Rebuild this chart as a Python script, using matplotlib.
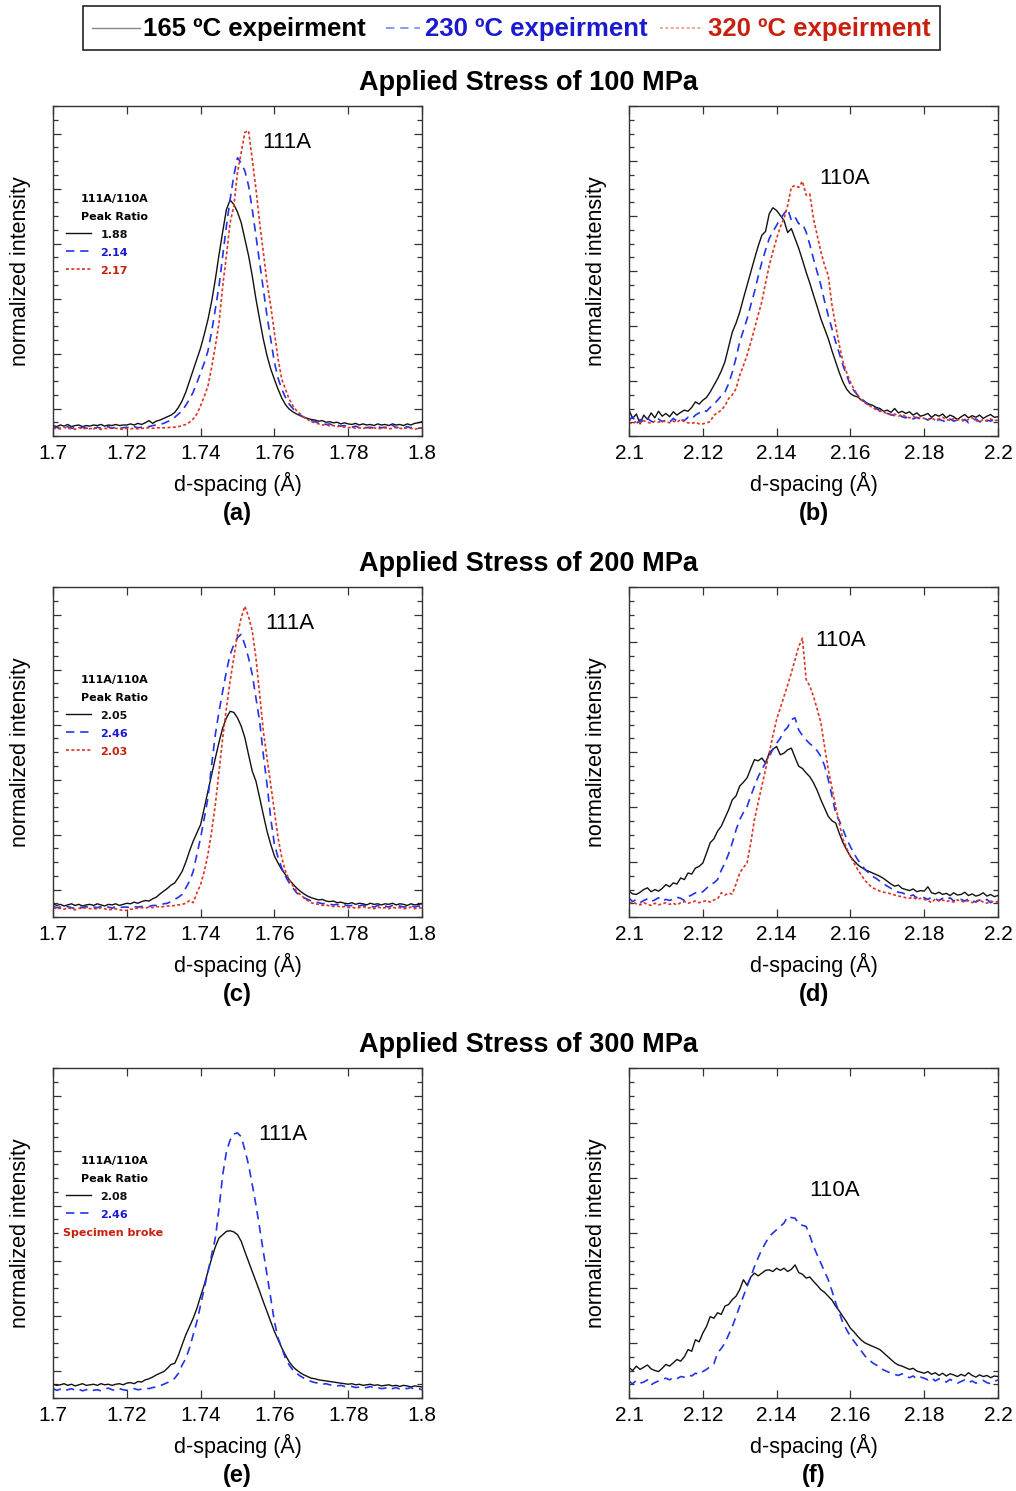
import numpy as np
import matplotlib
matplotlib.use("Agg")
import matplotlib.pyplot as plt
from matplotlib.ticker import MultipleLocator, FuncFormatter
from matplotlib.lines import Line2D
from matplotlib.patches import Rectangle

plt.rcParams['font.family'] = ['Liberation Sans', 'DejaVu Sans']

# d-spacing bins (A)
d_111 = np.round(np.arange(1.700, 1.8005, 0.001), 3)
d_110 = np.round(np.arange(2.100, 2.2005, 0.001), 3)

# ---- 100 MPa, 111A peak (a)
a_165 = [-0.31, -0.33, -0.30, -0.32, -0.29, -0.33, -0.31, -0.30, -0.33, -0.31,
         -0.32, -0.30, -0.31, -0.29, -0.32, -0.30, -0.31, -0.29, -0.31, -0.30,
         -0.30, -0.28, -0.30, -0.27, -0.29, -0.26, -0.22, -0.27, -0.23, -0.21,
         -0.18, -0.15, -0.12, -0.07, 0.02, 0.14, 0.30, 0.50, 0.70, 0.90,
         1.10, 1.35, 1.62, 1.95, 2.35, 2.80, 3.22, 3.62, 3.79, 3.71,
         3.57, 3.38, 3.08, 2.78, 2.41, 1.99, 1.62, 1.26, 0.96, 0.72,
         0.53, 0.35, 0.19, 0.07, -0.01, -0.06, -0.10, -0.13, -0.16, -0.18,
         -0.20, -0.21, -0.23, -0.22, -0.25, -0.24, -0.26, -0.25, -0.28, -0.26,
         -0.28, -0.29, -0.27, -0.30, -0.28, -0.30, -0.29, -0.31, -0.28, -0.30,
         -0.29, -0.31, -0.28, -0.30, -0.29, -0.31, -0.28, -0.30, -0.27, -0.26, -0.24]
a_230 = [-0.36, -0.34, -0.37, -0.35, -0.33, -0.36, -0.35, -0.37, -0.34, -0.36,
         -0.35, -0.37, -0.34, -0.36, -0.35, -0.33, -0.36, -0.34, -0.36, -0.35,
         -0.34, -0.36, -0.33, -0.35, -0.34, -0.32, -0.33, -0.31, -0.30, -0.29,
         -0.27, -0.24, -0.21, -0.16, -0.10, -0.04, 0.06, 0.17, 0.30, 0.47,
         0.65, 0.83, 1.05, 1.40, 1.81, 2.23, 2.78, 3.32, 3.80, 4.23,
         4.56, 4.46, 4.32, 4.05, 3.62, 3.14, 2.65, 2.17, 1.68, 1.26,
         0.84, 0.55, 0.35, 0.20, 0.08, 0.00, -0.07, -0.12, -0.16, -0.19,
         -0.22, -0.24, -0.26, -0.27, -0.29, -0.28, -0.31, -0.30, -0.32, -0.31,
         -0.33, -0.34, -0.32, -0.35, -0.33, -0.35, -0.34, -0.36, -0.33, -0.35,
         -0.34, -0.36, -0.30, -0.35, -0.34, -0.36, -0.33, -0.35, -0.34, -0.36, -0.35]
a_320 = [-0.35, -0.37, -0.36, -0.34, -0.37, -0.36, -0.38, -0.35, -0.37, -0.36,
         -0.37, -0.35, -0.36, -0.38, -0.36, -0.37, -0.35, -0.36, -0.37, -0.38,
         -0.36, -0.37, -0.36, -0.37, -0.36, -0.36, -0.35, -0.36, -0.35, -0.35,
         -0.35, -0.35, -0.34, -0.34, -0.33, -0.31, -0.29, -0.25, -0.19, -0.10,
         0.05, 0.22, 0.41, 0.75, 1.14, 1.56, 2.23, 2.78, 3.38, 3.68,
         4.29, 4.65, 5.02, 5.05, 4.53, 3.99, 3.38, 2.84, 2.29, 1.87,
         1.38, 0.90, 0.53, 0.35, 0.17, 0.05, -0.04, -0.10, -0.16, -0.20,
         -0.24, -0.26, -0.28, -0.30, -0.29, -0.32, -0.31, -0.33, -0.32, -0.34,
         -0.35, -0.34, -0.36, -0.35, -0.37, -0.34, -0.36, -0.35, -0.37, -0.36,
         -0.35, -0.37, -0.36, -0.34, -0.36, -0.37, -0.35, -0.36, -0.38, -0.36, -0.35]

# ---- 100 MPa, 110A peak (b)
b_165 = [0.47, 0.32, 0.40, 0.22, 0.38, 0.30, 0.42, 0.33, 0.45, 0.36,
         0.41, 0.35, 0.44, 0.38, 0.43, 0.47, 0.45, 0.52, 0.62, 0.58,
         0.65, 0.70, 0.80, 0.92, 1.04, 1.18, 1.35, 1.62, 1.89, 2.05,
         2.25, 2.50, 2.74, 2.98, 3.22, 3.45, 3.65, 3.72, 4.04, 4.15,
         4.10, 4.01, 3.92, 3.70, 3.77, 3.59, 3.41, 3.20, 2.98, 2.78,
         2.56, 2.35, 2.13, 1.95, 1.77, 1.55, 1.35, 1.15, 0.98, 0.85,
         0.77, 0.73, 0.71, 0.65, 0.62, 0.58, 0.56, 0.52, 0.50, 0.45,
         0.47, 0.43, 0.50, 0.42, 0.45, 0.41, 0.44, 0.38, 0.42, 0.36,
         0.38, 0.41, 0.34, 0.39, 0.36, 0.40, 0.33, 0.38, 0.35, 0.30,
         0.35, 0.39, 0.33, 0.37, 0.34, 0.38, 0.32, 0.36, 0.39, 0.34, 0.35]
b_230 = [0.28, 0.35, 0.22, 0.30, 0.25, 0.32, 0.27, 0.24, 0.31, 0.26,
         0.29, 0.25, 0.32, 0.27, 0.30, 0.28, 0.34, 0.31, 0.38, 0.42,
         0.47, 0.45, 0.52, 0.58, 0.65, 0.73, 0.80, 0.95, 1.16, 1.42,
         1.71, 1.92, 2.13, 2.38, 2.62, 2.90, 3.16, 3.38, 3.59, 3.72,
         3.83, 3.95, 4.04, 4.13, 3.92, 3.98, 3.86, 3.86, 3.71, 3.48,
         3.22, 2.98, 2.74, 2.45, 2.19, 1.95, 1.71, 1.50, 1.28, 1.10,
         0.92, 0.82, 0.74, 0.68, 0.62, 0.56, 0.52, 0.50, 0.46, 0.43,
         0.41, 0.39, 0.37, 0.40, 0.35, 0.33, 0.36, 0.31, 0.34, 0.30,
         0.32, 0.29, 0.33, 0.27, 0.30, 0.28, 0.25, 0.31, 0.27, 0.29,
         0.26, 0.30, 0.24, 0.28, 0.31, 0.26, 0.23, 0.29, 0.27, 0.30, 0.28]
b_320 = [0.25, 0.22, 0.27, 0.24, 0.28, 0.25, 0.23, 0.27, 0.25, 0.28,
         0.26, 0.24, 0.27, 0.25, 0.30, 0.26, 0.24, 0.23, 0.25, 0.22,
         0.22, 0.24, 0.26, 0.38, 0.42, 0.47, 0.55, 0.68, 0.75, 0.86,
         1.10, 1.28, 1.47, 1.70, 1.95, 2.20, 2.44, 2.78, 3.10, 3.35,
         3.59, 3.80, 3.95, 4.19, 4.53, 4.55, 4.52, 4.63, 4.38, 4.40,
         3.95, 3.65, 3.35, 3.10, 2.92, 2.38, 2.01, 1.65, 1.35, 1.15,
         0.98, 0.85, 0.74, 0.66, 0.60, 0.56, 0.52, 0.48, 0.45, 0.43,
         0.41, 0.38, 0.40, 0.36, 0.39, 0.35, 0.33, 0.36, 0.32, 0.34,
         0.32, 0.30, 0.33, 0.29, 0.31, 0.34, 0.30, 0.28, 0.32, 0.29,
         0.31, 0.27, 0.30, 0.33, 0.28, 0.26, 0.30, 0.27, 0.31, 0.28, 0.29]

# ---- 200 MPa, 111A peak (c)
c_165 = [-0.26, -0.29, -0.27, -0.30, -0.28, -0.26, -0.29, -0.27, -0.30, -0.28,
         -0.27, -0.29, -0.26, -0.28, -0.30, -0.27, -0.28, -0.26, -0.29, -0.27,
         -0.25, -0.26, -0.23, -0.25, -0.22, -0.20, -0.21, -0.17, -0.14, -0.08,
         -0.03, 0.02, 0.08, 0.12, 0.22, 0.33, 0.50, 0.70, 0.88, 1.03,
         1.18, 1.48, 1.79, 2.09, 2.39, 2.68, 2.94, 3.12, 3.24, 3.22,
         3.12, 2.97, 2.76, 2.45, 2.15, 1.97, 1.67, 1.36, 1.06, 0.82,
         0.61, 0.48, 0.36, 0.27, 0.18, 0.10, 0.03, -0.03, -0.08, -0.12,
         -0.15, -0.17, -0.19, -0.18, -0.21, -0.22, -0.21, -0.24, -0.23, -0.25,
         -0.26, -0.24, -0.27, -0.25, -0.26, -0.28, -0.25, -0.27, -0.26, -0.28,
         -0.26, -0.27, -0.25, -0.28, -0.26, -0.27, -0.29, -0.26, -0.28, -0.27, -0.26]
c_230 = [-0.31, -0.33, -0.32, -0.34, -0.31, -0.33, -0.35, -0.32, -0.33, -0.31,
         -0.34, -0.32, -0.33, -0.31, -0.33, -0.32, -0.34, -0.31, -0.33, -0.32,
         -0.32, -0.33, -0.31, -0.32, -0.31, -0.30, -0.31, -0.29, -0.29, -0.28,
         -0.26, -0.25, -0.22, -0.18, -0.14, -0.09, 0.03, 0.15, 0.33, 0.64,
         0.94, 1.30, 1.67, 2.27, 2.82, 3.24, 3.61, 3.97, 4.27, 4.45,
         4.58, 4.64, 4.45, 4.21, 3.91, 3.48, 3.06, 2.45, 1.91, 1.30,
         0.82, 0.58, 0.39, 0.24, 0.12, 0.03, -0.06, -0.11, -0.15, -0.18,
         -0.21, -0.23, -0.24, -0.26, -0.25, -0.27, -0.28, -0.27, -0.29, -0.28,
         -0.30, -0.29, -0.31, -0.30, -0.28, -0.31, -0.30, -0.32, -0.29, -0.31,
         -0.30, -0.32, -0.29, -0.31, -0.30, -0.32, -0.31, -0.29, -0.32, -0.30, -0.31]
c_320 = [-0.33, -0.35, -0.34, -0.36, -0.33, -0.35, -0.37, -0.34, -0.35, -0.33,
         -0.35, -0.34, -0.36, -0.33, -0.35, -0.37, -0.36, -0.35, -0.37, -0.38,
         -0.38, -0.36, -0.35, -0.34, -0.33, -0.34, -0.32, -0.33, -0.31, -0.32,
         -0.31, -0.30, -0.30, -0.29, -0.28, -0.27, -0.25, -0.20, -0.24, -0.06,
         0.09, 0.33, 0.64, 1.06, 1.55, 2.15, 2.76, 3.30, 3.79, 4.21,
         4.64, 4.94, 5.15, 4.96, 4.70, 4.21, 3.55, 2.88, 2.39, 1.91,
         1.42, 0.94, 0.58, 0.33, 0.18, 0.07, -0.03, -0.09, -0.15, -0.20,
         -0.24, -0.26, -0.27, -0.29, -0.28, -0.30, -0.31, -0.30, -0.32, -0.31,
         -0.33, -0.32, -0.34, -0.33, -0.31, -0.34, -0.33, -0.35, -0.32, -0.34,
         -0.33, -0.35, -0.32, -0.34, -0.33, -0.35, -0.34, -0.32, -0.35, -0.33, -0.34]

# ---- 200 MPa, 110A peak (d)
d_165 = [0.47, 0.42, 0.41, 0.45, 0.50, 0.53, 0.46, 0.50, 0.47, 0.52,
         0.59, 0.55, 0.62, 0.60, 0.71, 0.68, 0.80, 0.78, 0.89, 0.92,
         0.98, 1.16, 1.35, 1.42, 1.56, 1.65, 1.80, 1.95, 2.13, 2.20,
         2.38, 2.45, 2.53, 2.70, 2.86, 2.84, 2.89, 2.80, 2.98, 3.05,
         3.10, 2.95, 2.98, 3.04, 3.07, 2.90, 2.74, 2.70, 2.62, 2.55,
         2.44, 2.30, 2.13, 1.98, 1.83, 1.75, 1.71, 1.52, 1.35, 1.22,
         1.10, 1.02, 0.95, 0.90, 0.86, 0.83, 0.80, 0.77, 0.74, 0.70,
         0.65, 0.60, 0.56, 0.58, 0.52, 0.50, 0.48, 0.51, 0.46, 0.48,
         0.47, 0.55, 0.44, 0.42, 0.45, 0.41, 0.43, 0.39, 0.44, 0.40,
         0.41, 0.45, 0.39, 0.42, 0.38, 0.40, 0.44, 0.38, 0.41, 0.37, 0.39]
d_230 = [0.34, 0.28, 0.32, 0.26, 0.30, 0.33, 0.28, 0.31, 0.35, 0.29,
         0.32, 0.30, 0.33, 0.36, 0.34, 0.30, 0.37, 0.40, 0.44, 0.42,
         0.46, 0.52, 0.59, 0.62, 0.68, 0.85, 0.98, 1.15, 1.35, 1.58,
         1.77, 1.90, 2.01, 2.20, 2.38, 2.55, 2.68, 2.80, 2.92, 3.05,
         3.16, 3.25, 3.38, 3.45, 3.59, 3.62, 3.40, 3.30, 3.22, 3.15,
         3.10, 3.02, 2.92, 2.75, 2.50, 2.20, 1.89, 1.75, 1.59, 1.42,
         1.28, 1.15, 1.04, 0.95, 0.86, 0.80, 0.74, 0.70, 0.65, 0.60,
         0.56, 0.52, 0.48, 0.45, 0.44, 0.41, 0.38, 0.40, 0.35, 0.37,
         0.35, 0.32, 0.36, 0.33, 0.30, 0.34, 0.31, 0.35, 0.29, 0.33,
         0.32, 0.29, 0.33, 0.30, 0.27, 0.31, 0.28, 0.32, 0.26, 0.30, 0.31]
d_320 = [0.25, 0.27, 0.24, 0.22, 0.26, 0.23, 0.21, 0.25, 0.22, 0.24,
         0.26, 0.23, 0.25, 0.22, 0.26, 0.28, 0.25, 0.27, 0.29, 0.26,
         0.28, 0.30, 0.27, 0.31, 0.33, 0.44, 0.40, 0.43, 0.42, 0.60,
         0.80, 0.90, 0.98, 1.35, 1.77, 2.08, 2.38, 2.68, 2.98, 3.30,
         3.59, 3.80, 4.01, 4.22, 4.44, 4.68, 4.92, 5.07, 4.32, 4.20,
         4.01, 3.78, 3.53, 3.10, 2.68, 2.35, 2.01, 1.70, 1.41, 1.25,
         1.10, 0.98, 0.86, 0.76, 0.66, 0.59, 0.53, 0.50, 0.47, 0.45,
         0.44, 0.42, 0.40, 0.38, 0.37, 0.35, 0.34, 0.36, 0.32, 0.34,
         0.32, 0.30, 0.26, 0.33, 0.29, 0.31, 0.28, 0.30, 0.27, 0.31,
         0.29, 0.27, 0.30, 0.26, 0.29, 0.31, 0.27, 0.25, 0.29, 0.27, 0.28]

# ---- 300 MPa, 111A peak (e), 320 C specimen broke
e_165 = [-0.25, -0.27, -0.26, -0.24, -0.27, -0.25, -0.28, -0.26, -0.24, -0.27,
         -0.26, -0.25, -0.27, -0.24, -0.26, -0.25, -0.27, -0.25, -0.24, -0.26,
         -0.23, -0.22, -0.24, -0.20, -0.21, -0.17, -0.15, -0.12, -0.08, -0.05,
         -0.02, 0.04, 0.11, 0.13, 0.28, 0.47, 0.65, 0.80, 0.95, 1.13,
         1.35, 1.56, 1.80, 2.04, 2.25, 2.41, 2.47, 2.53, 2.54, 2.52,
         2.47, 2.35, 2.16, 1.98, 1.80, 1.62, 1.44, 1.25, 1.07, 0.89,
         0.71, 0.56, 0.41, 0.28, 0.16, 0.07, 0.01, -0.04, -0.08, -0.11,
         -0.14, -0.15, -0.17, -0.18, -0.19, -0.20, -0.21, -0.22, -0.23, -0.24,
         -0.25, -0.24, -0.26, -0.25, -0.27, -0.26, -0.25, -0.27, -0.26, -0.28,
         -0.27, -0.26, -0.28, -0.27, -0.29, -0.27, -0.28, -0.30, -0.28, -0.29, -0.30]
e_230 = [-0.33, -0.36, -0.34, -0.37, -0.35, -0.33, -0.36, -0.34, -0.37, -0.35,
         -0.33, -0.36, -0.35, -0.37, -0.34, -0.32, -0.35, -0.36, -0.33, -0.35,
         -0.36, -0.34, -0.33, -0.35, -0.34, -0.32, -0.33, -0.31, -0.30, -0.28,
         -0.25, -0.22, -0.19, -0.14, -0.05, 0.10, 0.22, 0.41, 0.65, 0.89,
         1.19, 1.50, 1.80, 2.10, 2.41, 2.95, 3.56, 3.98, 4.19, 4.30,
         4.32, 4.25, 4.01, 3.74, 3.38, 3.01, 2.59, 2.16, 1.74, 1.32,
         0.89, 0.59, 0.41, 0.22, 0.10, 0.01, -0.05, -0.10, -0.14, -0.17,
         -0.20, -0.22, -0.23, -0.25, -0.24, -0.26, -0.27, -0.28, -0.27, -0.29,
         -0.30, -0.29, -0.31, -0.30, -0.32, -0.31, -0.29, -0.32, -0.31, -0.33,
         -0.32, -0.30, -0.33, -0.31, -0.34, -0.32, -0.33, -0.31, -0.34, -0.33, -0.35]

# ---- 300 MPa, 110A peak (f)
f_165 = [0.55, 0.50, 0.58, 0.52, 0.56, 0.60, 0.53, 0.50, 0.48, 0.54,
         0.61, 0.58, 0.64, 0.70, 0.67, 0.75, 0.88, 0.85, 1.06, 1.02,
         1.18, 1.30, 1.48, 1.45, 1.55, 1.52, 1.67, 1.70, 1.79, 1.85,
         1.97, 2.15, 2.05, 2.20, 2.27, 2.22, 2.27, 2.32, 2.33, 2.30,
         2.36, 2.32, 2.36, 2.30, 2.34, 2.42, 2.28, 2.25, 2.18, 2.20,
         2.12, 2.05, 1.97, 1.92, 1.85, 1.78, 1.67, 1.58, 1.48, 1.38,
         1.27, 1.20, 1.12, 1.05, 1.00, 0.97, 0.94, 0.91, 0.88, 0.82,
         0.76, 0.70, 0.64, 0.60, 0.58, 0.55, 0.52, 0.54, 0.49, 0.47,
         0.45, 0.48, 0.43, 0.46, 0.41, 0.45, 0.40, 0.44, 0.42, 0.39,
         0.43, 0.40, 0.46, 0.41, 0.38, 0.42, 0.39, 0.41, 0.37, 0.40, 0.39]
f_230 = [0.30, 0.26, 0.32, 0.27, 0.29, 0.33, 0.24, 0.28, 0.31, 0.34,
         0.36, 0.33, 0.37, 0.35, 0.39, 0.38, 0.42, 0.40, 0.45, 0.43,
         0.48, 0.52, 0.57, 0.62, 0.82, 0.90, 1.00, 1.15, 1.30, 1.48,
         1.67, 1.85, 2.03, 2.20, 2.39, 2.55, 2.70, 2.82, 2.94, 3.00,
         3.06, 3.12, 3.18, 3.30, 3.28, 3.27, 3.17, 3.14, 3.12, 2.95,
         2.76, 2.60, 2.45, 2.30, 2.15, 1.95, 1.73, 1.55, 1.36, 1.24,
         1.12, 1.03, 0.94, 0.85, 0.76, 0.70, 0.64, 0.60, 0.55, 0.51,
         0.48, 0.45, 0.43, 0.41, 0.44, 0.39, 0.37, 0.40, 0.35, 0.38,
         0.36, 0.33, 0.37, 0.31, 0.35, 0.32, 0.29, 0.34, 0.30, 0.27,
         0.30, 0.33, 0.28, 0.31, 0.27, 0.30, 0.32, 0.28, 0.26, 0.30, 0.33]

temps = ["165 \u00baC expeirment", "230 \u00baC expeirment", "320 \u00baC expeirment"]
stresses = ["100", "200", "300"]
ratios = [["1.88", "2.14", "2.17"], ["2.05", "2.46", "2.03"], ["2.08", "2.46"]]
panel_letters = ["a", "b", "c", "d", "e", "f"]

BLACK = "#111111"
BLUE = "#2233e8"
RED = "#dd3322"
TXT_BLUE = "#1a1ad0"
TXT_RED = "#c8200e"
styles = [dict(color=BLACK, lw=1.0, ls="-"),
          dict(color=BLUE, lw=1.2, ls=(0, (5, 3.5))),
          dict(color=RED, lw=1.2, ls=(0, (1.8, 1.4)))]

fig = plt.figure(figsize=(10.16, 14.91), dpi=100)
W, H = 1016.0, 1491.0


def make_ax(left_px, top_px):
    return fig.add_axes([left_px / W, 1 - (top_px + 330) / H, 369 / W, 330 / H])


def style_ax(ax, x0, ylim):
    ax.set_xlim(x0, x0 + 0.1)
    ax.set_ylim(*ylim)
    ax.xaxis.set_major_locator(MultipleLocator(0.02))
    ax.xaxis.set_major_formatter(FuncFormatter(lambda v, p: "%g" % round(v, 2)))
    ax.yaxis.set_major_locator(MultipleLocator(1))
    ax.yaxis.set_minor_locator(MultipleLocator(0.25))
    ax.set_yticklabels([])
    ax.tick_params(which="both", direction="in", top=True, right=True, colors="#333333")
    ax.tick_params(which="major", length=6, width=0.9, labelsize=15, pad=6, labelcolor="black")
    ax.tick_params(which="minor", length=3.5, width=0.9)
    for s in ax.spines.values():
        s.set_color("#333333")
        s.set_linewidth(1.0)
    ax.set_xlabel("d-spacing (\u00c5)", fontsize=15.5, labelpad=6)
    ax.set_ylabel("normalized intensity", fontsize=15.5, labelpad=10)


rows_top = [106, 587, 1068]
left_sets = [(a_165, a_230, a_320), (c_165, c_230, c_320), (e_165, e_230)]
right_sets = [(b_165, b_230, b_320), (d_165, d_230, d_320), (f_165, f_230)]
lbl111 = [(0.634, 0.888), (0.642, 0.888), (0.623, 0.797)]
lbl110 = [(0.585, 0.779), (0.572, 0.839), (0.558, 0.630)]

for r in range(3):
    top = rows_top[r]
    fig.text(528 / W, 1 - (top - 23) / H, "Applied Stress of %s MPa" % stresses[r],
             ha="center", va="center", fontsize=19.5, fontweight="bold")

    axl = make_ax(53, top)
    for ys, st in zip(left_sets[r], styles):
        axl.plot(d_111, ys, **st)
    style_ax(axl, 1.7, (-0.5, 5.5))
    axl.text(lbl111[r][0], lbl111[r][1], "111A", transform=axl.transAxes,
             ha="center", va="center", fontsize=16)
    axl.text(0.5, -0.236, "(%s)" % panel_letters[2 * r], transform=axl.transAxes,
             ha="center", va="center", fontsize=17, fontweight="bold")

    # inset peak-ratio key
    fp = dict(fontsize=8, fontweight="bold", family=["DejaVu Sans"])
    axl.text(0.168, 0.718, "111A/110A", transform=axl.transAxes, ha="center", va="center", **fp)
    axl.text(0.168, 0.664, "Peak Ratio", transform=axl.transAxes, ha="center", va="center", **fp)
    tcols = [BLACK, TXT_BLUE, TXT_RED]
    for k, val in enumerate(ratios[r]):
        yk = 0.609 - 0.0545 * k
        axl.add_line(Line2D([0.036, 0.102], [yk + 0.006, yk + 0.006], transform=axl.transAxes,
                            **styles[k]))
        axl.text(0.128, yk, val, transform=axl.transAxes, ha="left", va="center",
                 color=tcols[k], **fp)
    if r == 2:
        axl.text(0.027, 0.609 - 0.0545 * 2, "Specimen broke", transform=axl.transAxes,
                 ha="left", va="center", color=TXT_RED, **fp)

    axr = make_ax(629, top)
    for ys, st in zip(right_sets[r], styles):
        axr.plot(d_110, ys, **st)
    style_ax(axr, 2.1, (0, 6))
    axr.text(lbl110[r][0], lbl110[r][1], "110A", transform=axr.transAxes,
             ha="center", va="center", fontsize=16)
    axr.text(0.5, -0.236, "(%s)" % panel_letters[2 * r + 1], transform=axr.transAxes,
             ha="center", va="center", fontsize=17, fontweight="bold")

# top legend box
fig.add_artist(Rectangle((83 / W, 1 - 50 / H), (940 - 83) / W, 44 / H, transform=fig.transFigure,
                         fill=False, edgecolor="#222222", lw=1.2))
leg_font = dict(fontsize=18.5, fontweight="bold")
leg_line = [(92, 140), (386, 420), (660, 703)]
leg_text = [143, 425, 708]
leg_cols = ["#888888", "#7788ee", "#ee9988"]
leg_tcols = ["black", TXT_BLUE, TXT_RED]
for k in range(3):
    st = dict(styles[k])
    st["color"] = leg_cols[k]
    fig.add_artist(Line2D([leg_line[k][0] / W, leg_line[k][1] / W], [1 - 28 / H, 1 - 28 / H],
                          transform=fig.transFigure, **st))
    fig.text(leg_text[k] / W, 1 - 29 / H, temps[k], ha="left", va="center",
             color=leg_tcols[k], **leg_font)

fig.savefig("out.png", dpi=100)
